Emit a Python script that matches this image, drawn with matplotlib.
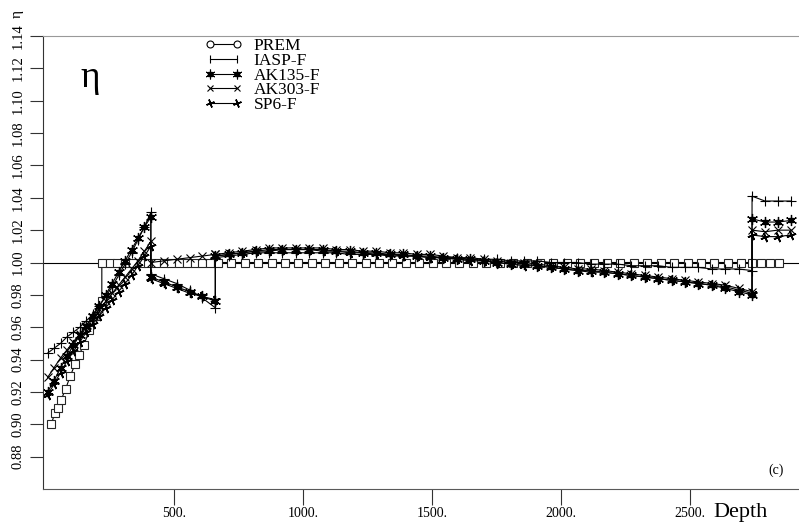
import matplotlib
matplotlib.use("Agg")
import matplotlib.pyplot as plt
from matplotlib.legend_handler import HandlerTuple, HandlerLine2D
from matplotlib.lines import Line2D

plt.rcParams['font.family'] = ['Liberation Serif', 'DejaVu Serif']

# ---------------- data ----------------
# PREM: anisotropic upper layer, then isotropic (eta = 1)
prem_depth = [24, 38, 50, 62, 80, 98, 116, 132, 150, 172, 196, 220,
              220, 250, 280, 310, 340, 370, 400, 430, 460, 490, 520, 550,
              580, 610, 640, 670, 722, 774, 826, 878, 930, 982, 1034, 1086,
              1138, 1190, 1242, 1294, 1346, 1398, 1450, 1502, 1554, 1606,
              1658, 1710, 1762, 1814, 1866, 1918, 1970, 2022, 2074, 2126,
              2178, 2230, 2282, 2334, 2386, 2438, 2490, 2542, 2594, 2646,
              2698, 2740, 2775, 2810, 2845]
prem_eta = [0.900, 0.907, 0.910, 0.915, 0.922, 0.930, 0.937, 0.943, 0.949,
            0.958, 0.967, 0.976] + [1.000] * 59

# upper mantle (surface to 410 km)
um_depth = [10, 35, 60, 85, 110, 135, 160, 185, 210, 235, 260, 285, 310,
            335, 360, 385, 410]
iasp_um = [0.944, 0.947, 0.950, 0.954, 0.957, 0.960, 0.964, 0.968, 0.973,
           0.979, 0.985, 0.992, 0.999, 1.006, 1.014, 1.022, 1.031]
ak135_um = [0.920, 0.927, 0.935, 0.942, 0.949, 0.955, 0.961, 0.967, 0.973,
            0.980, 0.987, 0.994, 1.001, 1.008, 1.015, 1.022, 1.028]
ak303_um = [0.929, 0.935, 0.941, 0.946, 0.951, 0.956, 0.961, 0.966, 0.971,
            0.976, 0.981, 0.986, 0.991, 0.996, 1.001, 1.007, 1.013]
sp6_um = [0.918, 0.925, 0.932, 0.939, 0.945, 0.951, 0.957, 0.962, 0.967,
          0.972, 0.977, 0.982, 0.987, 0.992, 0.998, 1.004, 1.010]

# transition zone (410 to 660 km)
tz_depth = [410, 460, 510, 560, 610, 660]
iasp_tz = [0.993, 0.990, 0.987, 0.983, 0.978, 0.972]
ak135_tz = [0.991, 0.988, 0.985, 0.982, 0.979, 0.976]
ak303_tz = [1.000, 1.001, 1.002, 1.003, 1.004, 1.005]
sp6_tz = [0.990, 0.987, 0.984, 0.981, 0.979, 0.977]

# lower mantle (660 to 2740 km)
lm_depth = [660, 712, 764, 816, 868, 920, 972, 1024, 1076, 1128, 1180,
            1232, 1284, 1336, 1388, 1440, 1492, 1544, 1596, 1648, 1700,
            1752, 1804, 1856, 1908, 1960, 2012, 2064, 2116, 2168, 2220,
            2272, 2324, 2376, 2428, 2480, 2532, 2584, 2636, 2688, 2740]
iasp_lm = [1.003, 1.004, 1.005, 1.006, 1.006, 1.006, 1.006, 1.006, 1.006,
           1.006, 1.005, 1.005, 1.005, 1.004, 1.004, 1.004, 1.003, 1.003,
           1.003, 1.002, 1.002, 1.002, 1.001, 1.001, 1.001, 1.000, 1.000,
           1.000, 0.999, 0.999, 0.999, 0.998, 0.998, 0.998, 0.997, 0.997,
           0.997, 0.996, 0.996, 0.996, 0.995]
ak135_lm = [1.004, 1.005, 1.006, 1.007, 1.008, 1.008, 1.008, 1.008, 1.008,
            1.007, 1.007, 1.006, 1.006, 1.005, 1.005, 1.004, 1.004, 1.003,
            1.002, 1.002, 1.001, 1.000, 0.999, 0.999, 0.998, 0.997, 0.996,
            0.995, 0.995, 0.994, 0.993, 0.992, 0.991, 0.990, 0.989, 0.988,
            0.987, 0.986, 0.984, 0.982, 0.980]
ak303_lm = [1.005, 1.006, 1.007, 1.008, 1.009, 1.009, 1.009, 1.009, 1.009,
            1.008, 1.008, 1.007, 1.007, 1.006, 1.006, 1.005, 1.005, 1.004,
            1.003, 1.003, 1.002, 1.001, 1.000, 1.000, 0.999, 0.998, 0.997,
            0.996, 0.996, 0.995, 0.994, 0.993, 0.992, 0.991, 0.990, 0.989,
            0.988, 0.987, 0.986, 0.984, 0.982]
sp6_lm = [1.004, 1.005, 1.006, 1.007, 1.007, 1.008, 1.008, 1.008, 1.007,
          1.007, 1.006, 1.006, 1.005, 1.005, 1.004, 1.004, 1.003, 1.003,
          1.002, 1.001, 1.001, 1.000, 0.999, 0.998, 0.998, 0.997, 0.996,
          0.995, 0.994, 0.994, 0.993, 0.992, 0.991, 0.990, 0.989, 0.988,
          0.987, 0.986, 0.985, 0.983, 0.981]

# D'' layer (2740 km to core-mantle boundary)
dpp_depth = [2740, 2790, 2840, 2891]
iasp_dpp = [1.041, 1.038, 1.038, 1.038]
ak135_dpp = [1.027, 1.025, 1.025, 1.026]
ak303_dpp = [1.020, 1.019, 1.020, 1.020]
sp6_dpp = [1.017, 1.016, 1.016, 1.017]

# ---------------- figure ----------------
W, H = 799, 527
fig = plt.figure(figsize=(W / 100, H / 100), dpi=100)
ax = fig.add_axes([43 / W, 1 - 489 / H, 1 - 43 / W, (489 - 36) / H])
ax.set_xlim(-8, 2922)
ax.set_ylim(0.86, 1.14)

ax.axhline(1.0, color='black', lw=0.8, zorder=1)


def join(seg_d, seg_v):
    d, v = [], []
    for sd, sv in zip(seg_d, seg_v):
        d += list(sd)
        v += list(sv)
    return d, v


segs_d = [um_depth, tz_depth, lm_depth, dpp_depth]
line_kw = dict(color='black', lw=0.8, clip_on=False)

ax.plot(prem_depth, prem_eta, marker='s', ms=6, mfc='white', mec='0.15',
        mew=0.8, **line_kw)

d, v = join(segs_d, [iasp_um, iasp_tz, iasp_lm, iasp_dpp])
ax.plot(d, v, marker='+', ms=7, mew=0.8, **line_kw)

ast = (6, 2, 0)
d, v = join(segs_d, [ak135_um, ak135_tz, ak135_lm, ak135_dpp])
ax.plot(d, v, marker=ast, ms=8, mew=0.9, **line_kw)
ax.plot(d, v, ls='none', marker='s', ms=3.2, color='black', clip_on=False)

d, v = join(segs_d, [ak303_um, ak303_tz, ak303_lm, ak303_dpp])
ax.plot(d, v, marker='x', ms=6, mew=0.8, **line_kw)

d, v = join(segs_d, [sp6_um, sp6_tz, sp6_lm, sp6_dpp])
ax.plot(d, v, marker=(4, 2, 20), ms=7, mew=1.2, **line_kw)

# legend
h_prem = Line2D([], [], color='black', lw=0.8, marker='o', ms=5,
                mfc='white', mec='black', mew=0.8)
h_iasp = Line2D([], [], color='black', lw=0.8, marker='|', ms=6, mew=0.8)
h_ak135a = Line2D([], [], color='black', lw=0.8, marker=ast, ms=7, mew=0.8)
h_ak135b = Line2D([], [], ls='none', marker='s', ms=2.8, color='black')
h_ak303 = Line2D([], [], color='black', lw=0.8, marker='x', ms=5, mew=0.8)
h_sp6 = Line2D([], [], color='black', lw=0.8, marker=(4, 2, 20), ms=6, mew=1.1)
line_handler = HandlerLine2D(marker_pad=0.55)
fig.legend([h_prem, h_iasp, (h_ak135a, h_ak135b), h_ak303, h_sp6],
           ['PREM', 'IASP-F', 'AK135-F', 'AK303-F', 'SP6-F'],
           handler_map={tuple: HandlerTuple(ndivide=1, pad=0),
                        Line2D: line_handler},
           loc='upper left', bbox_to_anchor=(200 / W, 1 - 38 / H),
           frameon=False, numpoints=2, handlelength=2.7, handletextpad=0.4,
           labelspacing=-0.08, fontsize=12.5, borderaxespad=0, borderpad=0)

# axes styling
ax.spines['right'].set_visible(False)
ax.spines['top'].set_color('0.6')
ax.spines['top'].set_linewidth(0.8)
ax.spines['bottom'].set_color('0.35')
ax.spines['bottom'].set_linewidth(0.8)
ax.spines['left'].set_color('0.2')
ax.spines['left'].set_linewidth(0.8)

xticks = [500, 1000, 1500, 2000, 2500]
ax.set_xticks(xticks)
ax.set_xticklabels([f'{t}.' for t in xticks], fontsize=10)
yticks = [0.88, 0.90, 0.92, 0.94, 0.96, 0.98, 1.00, 1.02, 1.04, 1.06,
          1.08, 1.10, 1.12, 1.14]
ax.set_yticks(yticks)
ax.set_yticklabels([f'{t:.2f}' for t in yticks], fontsize=10.5, rotation=90,
                   va='center')
ax.tick_params(axis='x', direction='out', length=11.5, width=0.8, pad=1.5,
               color='0.2')
ax.tick_params(axis='y', direction='out', length=9.5, width=0.8, pad=4,
               color='0.2')
ax.tick_params(top=False, right=False)

fig.text(740 / W, 1 - 512 / H, 'Depth', fontsize=16, ha='center', va='center')
fig.text(776 / W, 1 - 470 / H, '(c)', fontsize=10, ha='center', va='center')
fig.text(17 / W, 1 - 14 / H, 'η', fontsize=11, rotation=90, ha='center',
         va='center')
fig.text(90 / W, 1 - 78 / H, 'η', fontsize=27, ha='center', va='center')

fig.savefig('out.png', dpi=100)
